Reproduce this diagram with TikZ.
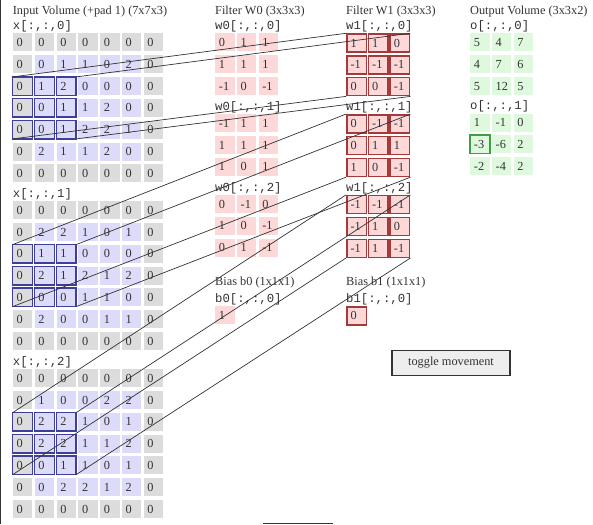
\documentclass[tikz,border=0pt]{standalone}
\usepackage{fontspec}
\setmainfont{Liberation Serif}
\setmonofont{Liberation Mono}
\usepackage{xcolor}
\definecolor{ink}{HTML}{333333}
\definecolor{padgrey}{HTML}{DCDCDC}
\definecolor{inblue}{HTML}{DCDCFA}
\definecolor{wpink}{HTML}{FCD8D8}
\definecolor{outgreen}{HTML}{DFF9DF}
\definecolor{hlblue}{HTML}{3E3E9E}
\definecolor{hlred}{HTML}{A63A3A}
\definecolor{hlgreen}{HTML}{3F9F3F}
\definecolor{btnfill}{HTML}{EEEEEE}
\usepackage{tikz}

\begin{document}
\begin{tikzpicture}[x=1pt,y=-1pt,
  font=\fontsize{12.3}{14}\selectfont,text=ink,
  cell/.style={rectangle,anchor=north west,minimum height=18pt,text width=12pt,
    inner xsep=3.75pt,inner ysep=0pt,align=left},
  wcell/.style={cell,fill=wpink},
  wact/.style={wcell,draw=hlred,line width=1.5pt},
  ocell/.style={cell,fill=outgreen},
  lab/.style={anchor=base west,inner sep=0pt,font=\ttfamily\fontsize{12.3}{14}\selectfont},
  ttl/.style={anchor=base west,inner sep=0pt},
  hl/.style={line width=1.5pt},
  link/.style={ink,line width=0.7pt},
  btn/.style={rectangle,draw=ink,line width=1.3pt,fill=btnfill,minimum width=118pt,
    minimum height=25pt,inner sep=0pt}]
  \useasboundingbox (0,0) rectangle (593,524);
  % titles
  \node[ttl] (tin) at (12.7,15) {Input Volume (+pad 1) (7x7x3)};
  \node[ttl] (tw0) at (215,15) {Filter W0 (3x3x3)};
  \node[ttl] (tw1) at (346,15) {Filter W1 (3x3x3)};
  \node[ttl] (tout) at (470,15) {Output Volume (3x3x2)};
  % input volume
  \foreach \d/\top/\rows in {
    0/33.3/{{0,0,0,0,0,0,0},{0,0,1,1,0,2,0},{0,1,2,0,0,0,0},{0,0,1,1,2,0,0},{0,0,1,2,2,1,0},{0,2,1,1,2,0,0},{0,0,0,0,0,0,0}},
    1/201/{{0,0,0,0,0,0,0},{0,2,2,1,0,1,0},{0,1,1,0,0,0,0},{0,2,1,2,1,2,0},{0,0,0,1,1,0,0},{0,2,0,0,1,1,0},{0,0,0,0,0,0,0}},
    2/369/{{0,0,0,0,0,0,0},{0,1,0,0,2,2,0},{0,2,2,1,0,1,0},{0,2,2,1,1,2,0},{0,0,1,1,0,1,0},{0,0,2,2,1,2,0},{0,0,0,0,0,0,0}}}{
    \node[lab] (xl\d) at (12.7,\top-3.5) {x[:,:,\d]};
    \foreach \vals [count=\row from 0] in \rows
      \foreach \v [count=\col from 0] in \vals {
        \pgfmathtruncatemacro\pad{(\row==0)||(\row==6)||(\col==0)||(\col==6)}
        \ifnum\pad=1 \def\cf{padgrey}\else\def\cf{inblue}\fi
        \node[cell,fill=\cf] (x\d-\row-\col) at (12.7+21.8*\col,\top+21.8*\row) {\v};
      }
  }
  \foreach \d in {0,1,2}
    \foreach \row in {2,3,4}
      \foreach \col in {0,1,2}
        \draw[hl,hlblue] (x\d-\row-\col.north west) rectangle (x\d-\row-\col.south east);
  % filter W0
  \foreach \d/\rows in {0/{{0,1,1},{1,1,1},{-1,0,-1}},1/{{-1,1,1},{1,1,1},{1,0,1}},2/{{0,-1,0},{1,0,-1},{0,1,-1}}}{
    \node[lab] (w0l\d) at (215,33.3+80.8*\d-3.5) {w0[:,:,\d]};
    \foreach \vals [count=\row from 0] in \rows
      \foreach \v [count=\col from 0] in \vals
        \node[wcell] (w0-\d-\row-\col) at (215+21.7*\col,33.3+80.8*\d+21.8*\row) {\v};
  }
  % filter W1 (active)
  \foreach \d/\rows in {0/{{1,1,0},{-1,-1,-1},{0,0,-1}},1/{{0,-1,-1},{0,1,1},{1,0,-1}},2/{{-1,-1,-1},{-1,1,0},{-1,1,-1}}}{
    \node[lab] (w1l\d) at (346,33.3+80.8*\d-3.5) {w1[:,:,\d]};
    \foreach \vals [count=\row from 0] in \rows
      \foreach \v [count=\col from 0] in \vals
        \node[wact] (w1-\d-\row-\col) at (346+21.7*\col,33.3+80.8*\d+21.8*\row) {\v};
  }
  % biases
  \node[ttl] (tb0) at (215,285) {Bias b0 (1x1x1)};
  \node[lab] (b0l) at (215,302) {b0[:,:,0]};
  \node[wcell] (b0) at (215,306) {1};
  \node[ttl] (tb1) at (346,285) {Bias b1 (1x1x1)};
  \node[lab] (b1l) at (346,302) {b1[:,:,0]};
  \node[wact] (b1) at (346,306) {0};
  % output volume
  \foreach \d/\rows in {0/{{5,4,7},{4,7,6},{5,12,5}},1/{{1,-1,0},{-3,-6,2},{-2,-4,2}}}{
    \node[lab] (ol\d) at (470,33.3+80*\d-3.5) {o[:,:,\d]};
    \foreach \vals [count=\row from 0] in \rows
      \foreach \v [count=\col from 0] in \vals
        \node[ocell] (o-\d-\row-\col) at (470+21.7*\col,33.3+80*\d+21.8*\row) {\v};
  }
  \draw[hl,hlgreen] (o-1-1-0.north west) rectangle (o-1-1-0.south east);
  \node[btn] (tog) at (451,363) {toggle movement};
  % receptive field to filter
  \foreach \d in {0,1,2}{
    \draw[link] (x\d-2-0.north west) -- (w1-\d-0-0.north west);
    \draw[link] (x\d-2-2.north east) -- (w1-\d-0-2.north east);
    \draw[link] (x\d-4-0.south west) -- (w1-\d-2-0.south west);
    \draw[link] (x\d-4-2.south east) -- (w1-\d-2-2.south east);
  }
  \draw[ink,line width=1.2pt] (0.6,0) -- (0.6,524);
  \draw[ink,line width=1pt] (263,523) -- (333,523);
\end{tikzpicture}
\end{document}
